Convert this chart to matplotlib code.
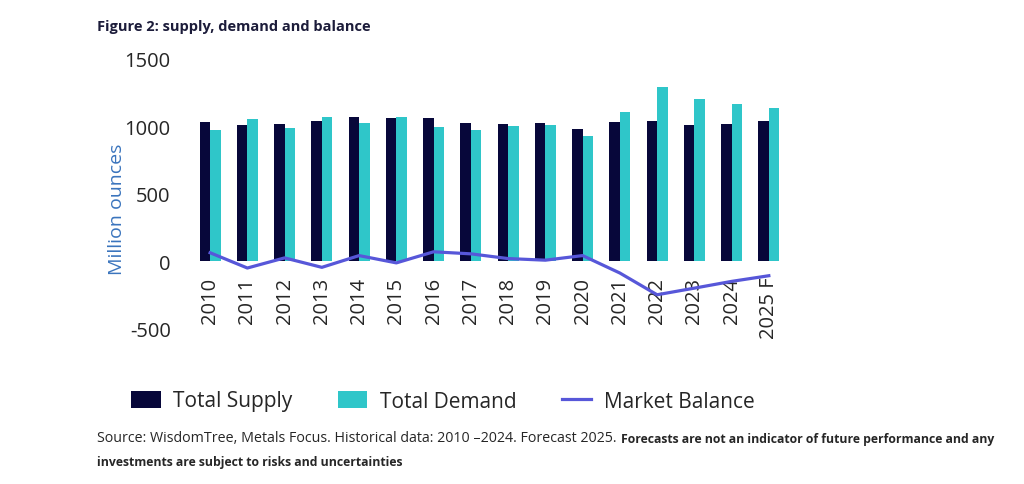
import numpy as np
import matplotlib.pyplot as plt

years = ['2010', '2011', '2012', '2013', '2014', '2015', '2016', '2017',
         '2018', '2019', '2020', '2021', '2022', '2023', '2024', '2025 F']
supply = [1032, 1012, 1017, 1040, 1067, 1062, 1062, 1027,
          1015, 1022, 977, 1030, 1040, 1007, 1017, 1035]
demand = [970, 1050, 988, 1067, 1020, 1067, 992, 975,
          1005, 1007, 930, 1107, 1288, 1204, 1164, 1137]
balance = [63, -50, 25, -45, 42, -12, 70, 55,
           20, 8, 42, -87, -248, -199, -149, -107]

c_supply = '#07073a'
c_demand = '#2fc6c9'
c_balance = '#5757d9'
c_text = '#262626'

plt.rcParams['font.family'] = ['Open Sans', 'DejaVu Sans']
plt.rcParams['axes.unicode_minus'] = False

fig = plt.figure(figsize=(10.24, 4.85), dpi=100)
ax = fig.add_axes([0.187, 0.320, 0.582, 0.557])

x = np.arange(len(years))
w = 0.28
b1 = ax.bar(x - w / 2, supply, w, color=c_supply, label='Total Supply')
b2 = ax.bar(x + w / 2, demand, w, color=c_demand, label='Total Demand')
l1, = ax.plot(x, balance, color=c_balance, lw=2.3, label='Market Balance')

# x axis crosses at zero; do this before styling ticks (it resets them)
ax.spines['bottom'].set_position(('data', 0))
for s in ['top', 'right', 'left', 'bottom']:
    ax.spines[s].set_visible(False)

ax.set_xlim(-0.5, len(years) - 0.5)
ax.set_ylim(-500, 1500)
ax.set_yticks([-500, 0, 500, 1000, 1500])
ax.tick_params(axis='y', length=0, pad=15, labelsize=14.5, labelcolor=c_text)
ax.set_xticks(x)
ax.set_xticklabels(years, rotation=90, va='top', ha='center')
ax.tick_params(axis='x', length=0, pad=11, labelsize=14.5, labelcolor=c_text)

fig.text(117 / 1024, 1 - 209 / 485, 'Million ounces', rotation=90,
         ha='center', va='center', fontsize=14, color='#3a74bd')

fig.text(97 / 1024, 1 - 27 / 485, 'Figure 2: supply, demand and balance',
         ha='left', va='center', fontsize=10.5, fontweight='bold', color='#1c1c3a')

fig.legend([b1, b2, l1], ['Total Supply', 'Total Demand', 'Market Balance'],
           loc='center', bbox_to_anchor=(443 / 1024, 1 - 402 / 485), ncol=3,
           frameon=False, fontsize=15, handlelength=1.4, handleheight=0.9,
           handletextpad=0.6, columnspacing=2.2, labelcolor=c_text)

t1 = fig.text(97 / 1024, 1 - 442 / 485,
              'Source: WisdomTree, Metals Focus. Historical data: 2010 \u20132024. Forecast 2025.',
              ha='left', va='baseline', fontsize=10.3, color=c_text)
ax.annotate('Forecasts are not an indicator of future performance and any',
            xy=(1, 0), xycoords=t1, xytext=(3, 0), textcoords='offset points',
            ha='left', va='bottom', fontsize=8.8, fontweight='bold', color=c_text,
            annotation_clip=False)
fig.text(97 / 1024, 1 - 466 / 485,
         'investments are subject to risks and uncertainties',
         ha='left', va='baseline', fontsize=8.8, fontweight='bold', color=c_text)

fig.savefig('out.png', dpi=100)
